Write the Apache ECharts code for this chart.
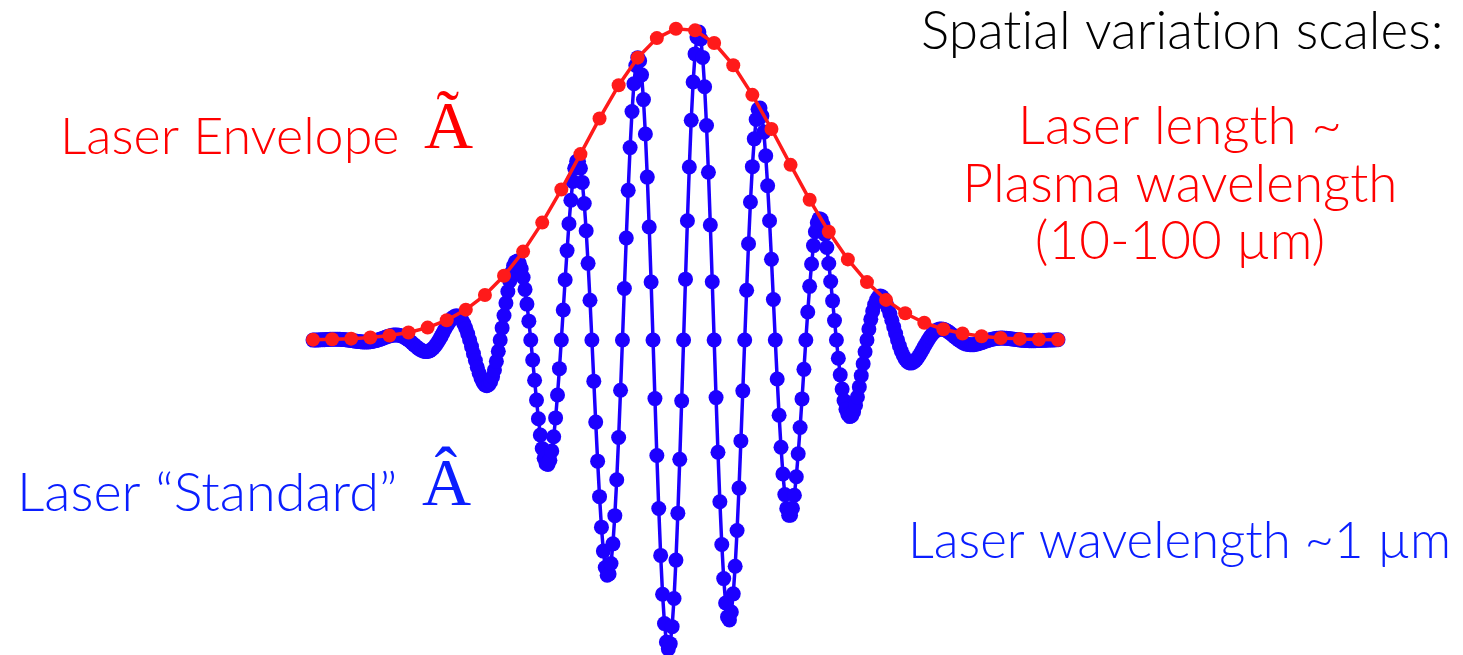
<!DOCTYPE html>
<html>
<head>
<meta charset="utf-8">
<script src="https://cdn.jsdelivr.net/npm/echarts@6/dist/echarts.min.js"></script>
<style>html,body{margin:0;padding:0;background:#fff}#c{width:1463px;height:655px}</style>
</head>
<body>
<div id="c"></div>
<script>
// Laser field "standard" A-hat: one value per sample index 0..390
const BLUE_Y = [
-0.04,-0.02,0,0.03,0.06,0.09,0.12,0.15,0.18,0.21,
0.23,0.24,0.24,0.23,0.21,0.17,0.13,0.07,0,-0.08,
-0.16,-0.26,-0.35,-0.43,-0.51,-0.58,-0.62,-0.65,-0.65,-0.62,
-0.56,-0.47,-0.34,-0.19,0,0.21,0.43,0.66,0.89,1.11,
1.30,1.46,1.57,1.63,1.62,1.54,1.38,1.14,0.83,0.45,
0,-0.50,-1.02,-1.56,-2.09,-2.59,-3.02,-3.37,-3.61,-3.72,
-3.68,-3.47,-3.10,-2.55,-1.84,-0.98,0,1.08,2.22,3.37,
4.48,5.50,6.39,7.09,7.55,7.74,7.60,7.14,6.33,5.18,
3.72,1.98,0,-2.14,-4.37,-6.61,-8.74,-10.68,-12.33,-13.60,
-14.40,-14.66,-14.33,-13.38,-11.79,-9.61,-6.85,-3.62,0,3.88,
7.87,11.82,15.56,18.90,21.69,23.78,25.03,25.33,24.62,22.85,
20.03,16.22,11.51,6.04,0,-6.40,-12.91,-19.27,-25.22,-30.47,
-34.77,-37.90,-39.66,-39.91,-38.56,-35.58,-31.01,-24.96,-17.61,-9.19,
0,9.62,19.31,28.66,37.27,44.77,50.80,55.05,57.28,57.31,
55.05,50.51,43.76,35.02,24.57,12.75,0,-13.19,-26.31,-38.83,
-50.21,-59.98,-67.66,-72.90,-75.41,-75.01,-71.64,-65.34,-56.30,-44.80,
-31.24,-16.12,0,16.49,32.69,47.96,61.67,73.23,82.13,87.99,
90.49,89.50,84.98,77.06,66.01,52.22,36.21,18.57,0,-18.78,
-37.03,-54.01,-69.04,-81.51,-90.89,-96.81,-98.99,-97.33,-91.88,-82.84,
-70.55,-55.50,-38.25,-19.51,0,19.50,38.23,55.44,70.45,82.69,
91.69,97.09,98.70,96.49,90.57,81.19,68.74,53.76,36.84,18.68,
0,-18.46,-35.97,-51.86,-65.53,-76.48,-84.30,-88.75,-89.71,-87.19,
-81.37,-72.52,-61.04,-47.46,-32.34,-16.30,0,15.93,30.86,44.24,
55.56,64.47,70.66,73.96,74.33,71.82,66.64,59.04,49.42,38.20,
25.88,12.97,0,-12.52,-24.13,-34.39,-42.95,-49.55,-53.98,-56.18,
-56.13,-53.92,-49.74,-43.83,-36.47,-28.03,-18.88,-9.41,0,8.98,
17.19,24.37,30.26,34.71,37.59,38.90,38.64,36.91,33.85,29.65,
24.53,18.75,12.55,6.22,0,-5.87,-11.17,-15.74,-19.43,-22.16,
-23.86,-24.55,-24.25,-23.03,-21.00,-18.29,-15.04,-11.43,-7.61,-3.75,
0,3.49,6.62,9.27,11.38,12.90,13.81,14.12,13.87,13.09,
11.87,10.28,8.41,6.35,4.21,2.06,0,-1.90,-3.57,-4.97,
-6.07,-6.84,-7.29,-7.41,-7.23,-6.79,-6.12,-5.27,-4.28,-3.22,
-2.12,-1.03,0,0.94,1.76,2.43,2.95,3.31,3.50,3.54,
3.44,3.21,2.87,2.46,1.99,1.48,0.97,0.47,0,-0.42,
-0.79,-1.08,-1.31,-1.46,-1.53,-1.54,-1.49,-1.38,-1.23,-1.05,
-0.84,-0.63,-0.41,-0.20,0,0.17,0.32,0.44,0.53,0.58,
0.61,0.61,0.59,0.54,0.48,0.41,0.33,0.24,0.16,0.07,
0,-0.06,-0.12,-0.16,-0.20,-0.22,-0.22,-0.23,-0.21,-0.20,
-0.17,-0.14,-0.11,-0.08,-0.05,-0.03,0,0.02,0.04,0.06,
0.06
];

// Envelope A-tilde: sample indices and values
const RED_X = [0,10,20,30,40,50,60,70,80,90,100,110,120,130,140,150,160,170,180,190,
               200,210,220,230,240,250,260,270,280,290,300,310,320,330,340,350,360,370,380,390];
const RED_Y = [0.11,0.23,0.43,0.79,1.41,2.41,3.98,6.34,9.73,14.40,20.57,28.33,37.63,48.22,59.59,71.01,81.63,90.49,96.76,99.78,
               99.24,95.19,88.07,78.58,67.63,56.13,44.93,34.69,25.83,18.55,12.85,8.59,5.53,3.44,2.06,1.19,0.66,0.36,0.18,0.09];

// \u200c (zero-width non-joiner) keeps "ti" from becoming a ligature
const LABELS = {
  title: 'Spat\u200cial variat\u200cion scales:',
  envLines: ['Laser length ~', 'Plasma wavelength', '(10-100 \u00b5m)'],
  envName: 'Laser Envelope',
  envSym: '\u00c3',
  stdName: 'Laser \u201cStandard\u201d',
  stdSym: '\u00c2',
  wave: 'Laser wavelength ~1 \u00b5m'
};

const RED = '#ff1a1a', BLUE = '#1c00ff', TRED = '#ff0000', TBLUE = '#0a1eff';
const SANS = 'Lato, "Noto Sans", sans-serif';
const SERIF = '"Liberation Serif", "DejaVu Serif", serif';

function txt(x, y, s, color, size, family, align, weight) {
  return {
    type: 'text', x: x, y: y, silent: true,
    style: { text: s, fill: color, fontSize: size, fontFamily: family,
      fontWeight: weight || 300,
      textAlign: align || 'left', align: align || 'left',
      textVerticalAlign: 'middle', verticalAlign: 'middle' }
  };
}

const chart = echarts.init(document.getElementById('c'), null, { renderer: 'canvas' });
chart.setOption({
  animation: false,
  backgroundColor: '#ffffff',
  grid: { left: 313, right: 405, top: 28, bottom: 3 },
  xAxis: { type: 'value', min: 0, max: 390, show: false },
  yAxis: { type: 'value', min: -100, max: 100, show: false },
  series: [
    {
      type: 'line', name: 'standard',
      data: BLUE_Y.map((v, i) => [i, v]),
      symbol: 'circle', symbolSize: 15, showAllSymbol: true,
      itemStyle: { color: BLUE }, lineStyle: { color: BLUE, width: 3.5 },
      z: 2
    },
    {
      type: 'line', name: 'envelope',
      data: RED_X.map((x, k) => [x, RED_Y[k]]),
      symbol: 'circle', symbolSize: 14, showAllSymbol: true,
      itemStyle: { color: RED }, lineStyle: { color: RED, width: 3.5 },
      z: 3
    }
  ],
  graphic: [
    txt(921, 32, LABELS.title, '#000000', 53, SANS),
    txt(1180, 127, LABELS.envLines[0], TRED, 53, SANS, 'center'),
    txt(1180, 185, LABELS.envLines[1], TRED, 53, SANS, 'center'),
    txt(1180, 242, LABELS.envLines[2], TRED, 53, SANS, 'center'),
    txt(60, 137, LABELS.envName, TRED, 52, SANS),
    txt(424, 130, LABELS.envSym, TRED, 68, SERIF, 'left', 'normal'),
    txt(17, 494, LABELS.stdName, TBLUE, 54, SANS),
    txt(422, 487, LABELS.stdSym, TBLUE, 68, SERIF, 'left', 'normal'),
    txt(908, 542, LABELS.wave, TBLUE, 51, SANS)
  ]
});
</script>
</body>
</html>
